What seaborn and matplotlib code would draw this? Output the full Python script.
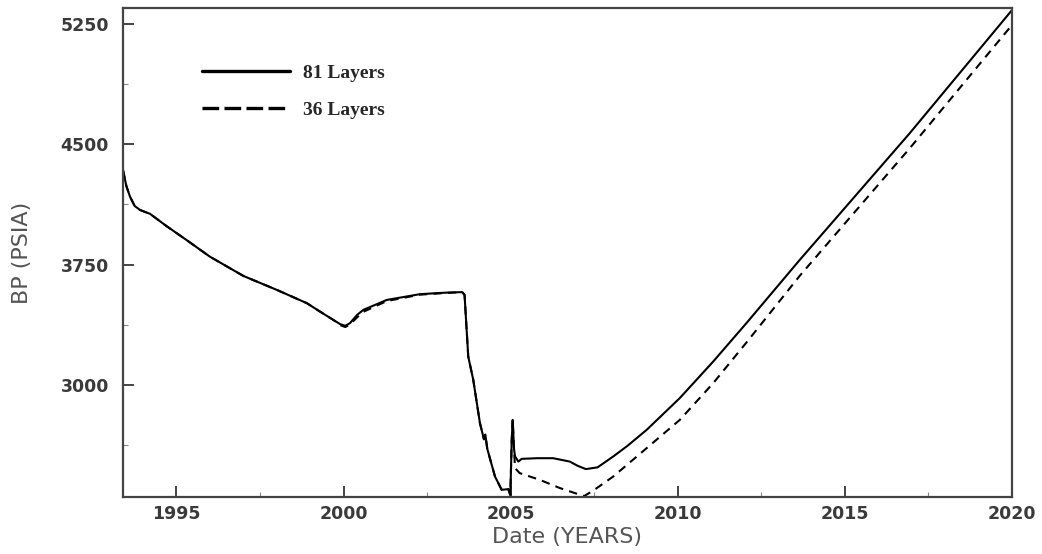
import numpy as np
import pandas as pd
import matplotlib
matplotlib.use("Agg")
import matplotlib.pyplot as plt
from matplotlib.lines import Line2D
from matplotlib.ticker import FixedLocator
import seaborn as sns

# ---- data ----
years_81 = [1993.40, 1993.50, 1993.61, 1993.75, 1993.91, 1994.21, 1994.70, 1995.30,
            1996.00, 1997.00, 1998.00, 1998.90, 1999.29, 1999.69, 1999.90, 2000.05,
            2000.19, 2000.40, 2000.59, 2001.29, 2002.28, 2003.00, 2003.55, 2003.62,
            2003.73, 2003.88, 2004.08, 2004.20, 2004.24, 2004.30, 2004.53, 2004.73,
            2004.93, 2004.99, 2005.03, 2005.06, 2005.10, 2005.13, 2005.23, 2005.33,
            2005.80, 2006.27, 2006.77, 2007.00, 2007.25, 2007.60, 2008.07, 2008.50,
            2009.07, 2010.06, 2011.06, 2012.06, 2013.65, 2016.94, 2020.00]
bp_81 = [4340, 4240, 4173, 4115, 4090, 4066, 3990, 3903,
         3799, 3679, 3592, 3509, 3457, 3405, 3378, 3368,
         3384, 3435, 3467, 3529, 3565, 3574, 3578, 3560,
         3176, 3031, 2761, 2660, 2690, 2600, 2428, 2345,
         2349, 2312, 2650, 2781, 2600, 2553, 2521, 2538,
         2542, 2542, 2521, 2495, 2474, 2485, 2553, 2620,
         2719, 2917, 3145, 3386, 3779, 4569, 5337]

years_36 = [1993.40, 1993.50, 1993.61, 1993.75, 1993.91, 1994.21, 1994.70, 1995.30,
            1996.00, 1997.00, 1998.00, 1998.90, 1999.29, 1999.69, 1999.90, 2000.05,
            2000.19, 2000.40, 2000.59, 2001.29, 2002.28, 2003.00, 2003.55, 2003.62,
            2003.73, 2003.88, 2004.08, 2004.20, 2004.24, 2004.30, 2004.53, 2004.73,
            2004.93, 2004.99, 2005.03, 2005.06, 2005.10, 2005.13, 2005.27, 2005.87,
            2006.47, 2007.07, 2007.20, 2007.47, 2008.07, 2009.07, 2010.06, 2011.06,
            2012.06, 2013.65, 2016.94, 2020.00]
bp_36 = [4340, 4240, 4173, 4115, 4090, 4066, 3990, 3903,
         3799, 3679, 3592, 3509, 3457, 3405, 3372, 3360,
         3375, 3420, 3455, 3522, 3562, 3572, 3578, 3560,
         3176, 3031, 2761, 2660, 2690, 2600, 2428, 2345,
         2349, 2312, 2650, 2781, 2600, 2480, 2449, 2407,
         2356, 2314, 2306, 2340, 2428, 2605, 2781, 3010,
         3265, 3680, 4475, 5244]

series_labels = ["81 Layers", "36 Layers"]
x_ticks = [1995, 2000, 2005, 2010, 2015, 2020]
y_ticks = [3000, 3750, 4500, 5250]

df = pd.concat([
    pd.DataFrame({"Date": years_36, "BP": bp_36, "Model": series_labels[1]}),
    pd.DataFrame({"Date": years_81, "BP": bp_81, "Model": series_labels[0]}),
], ignore_index=True)

# ---- styling ----
sns.set_theme(style="white")
plt.rcParams["font.family"] = ["DejaVu Sans"]

fig = plt.figure(figsize=(10.42, 5.54), dpi=100)
ax = fig.add_axes([123 / 1042, 1 - 497 / 554, 889 / 1042, 489 / 554])

sns.lineplot(data=df, x="Date", y="BP", hue="Model", style="Model",
             hue_order=[series_labels[1], series_labels[0]],
             palette={series_labels[0]: "black", series_labels[1]: "black"},
             dashes={series_labels[0]: "", series_labels[1]: (4, 3)},
             estimator=None, sort=False, legend=False, linewidth=1.5, ax=ax)

ax.set_xlim(1993.4, 2020.0)
ax.set_ylim(2300, 5350)

ax.xaxis.set_major_locator(FixedLocator(x_ticks))
ax.xaxis.set_minor_locator(FixedLocator([t + 2.5 for t in x_ticks[:-1]]))
ax.yaxis.set_major_locator(FixedLocator(y_ticks))
ax.yaxis.set_minor_locator(FixedLocator([t - 375 for t in y_ticks]))
ax.set_xticklabels([str(t) for t in x_ticks])
ax.set_yticklabels([str(t) for t in y_ticks])

for sp in ax.spines.values():
    sp.set_color("#444444")
    sp.set_linewidth(1.6)

ax.tick_params(axis="both", which="major", direction="in", length=8, width=1.4,
               color="#444444", labelsize=12.5, labelcolor="#3a3a3a",
               bottom=True, left=True, top=False, right=False)
ax.tick_params(axis="both", which="minor", direction="in", length=3.5, width=0.8,
               color="#888888", bottom=True, left=True, top=False, right=False)
ax.tick_params(axis="y", which="major", pad=10)
ax.tick_params(axis="x", which="major", pad=6)
for lab in ax.get_xticklabels() + ax.get_yticklabels():
    lab.set_fontweight("bold")

ax.set_xlabel("Date (YEARS)", fontsize=16, color="#555555")
ax.set_ylabel("BP (PSIA)", fontsize=16, color="#555555")
ax.xaxis.set_label_coords(0.5, -0.062)
ax.yaxis.set_label_coords(-0.102, 0.5)

handles = [Line2D([], [], color="black", lw=2.4, linestyle="-"),
           Line2D([], [], color="black", lw=2.4, linestyle=(0, (5, 1.6)))]
leg = ax.legend(handles, series_labels, loc="upper left",
                bbox_to_anchor=(202 / 1042, 1 - 64 / 554),
                bbox_transform=fig.transFigure, frameon=False,
                handlelength=4.5, handletextpad=0.7, labelspacing=1.0,
                borderpad=0, borderaxespad=0,
                prop={"family": "Liberation Serif", "weight": "bold", "size": 14})

fig.savefig("out.png", dpi=100, facecolor="white")
